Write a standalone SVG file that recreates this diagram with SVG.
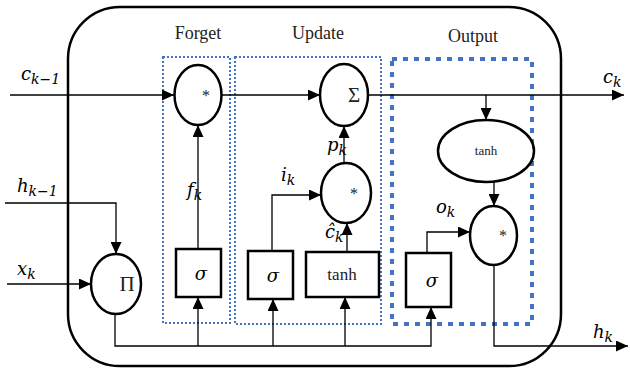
<svg xmlns="http://www.w3.org/2000/svg" width="630" height="370" viewBox="0 0 630 370">
<style>
.shape{fill:#fff;stroke:#000;stroke-width:2.5}
.wire{fill:none;stroke:#000;stroke-width:1.3}
.title{font-family:"Liberation Serif",serif;font-size:18px;fill:#222}
.math{font-family:"DejaVu Serif",serif;font-style:italic;font-size:18px;fill:#000}
.sub{font-size:14px}
.op{font-family:"Liberation Serif",serif;fill:#222}
</style>
<defs>
<marker id="arr" markerUnits="userSpaceOnUse" markerWidth="13" markerHeight="11" refX="12" refY="5.5" orient="auto">
<path d="M0,0 L12,5.5 L0,11 z" fill="#000"/>
</marker>
</defs>
<rect x="68" y="7" width="493" height="359" rx="52" fill="#fff" stroke="#000" stroke-width="2.5"/>
<g id="groups">
<rect x="163" y="57" width="67" height="266" fill="none" stroke="#4472C4" stroke-width="2" stroke-dasharray="2 2"/>
<rect x="235" y="57" width="146" height="267" fill="none" stroke="#4472C4" stroke-width="2" stroke-dasharray="2 2"/>
<rect x="392" y="59" width="140" height="265" fill="none" stroke="#4472C4" stroke-width="4" stroke-dasharray="5 6"/>
<text class="title" x="198" y="39" text-anchor="middle">Forget</text>
<text class="title" x="318" y="39" text-anchor="middle">Update</text>
<text class="title" x="473" y="42" text-anchor="middle">Output</text>
</g>
<g id="connectors">
<path class="wire" d="M10,95 H174" marker-end="url(#arr)"/>
<path class="wire" d="M221,95 H320" marker-end="url(#arr)"/>
<path class="wire" d="M368,95 H624" marker-end="url(#arr)"/>
<path class="wire" d="M486,95 V120" marker-end="url(#arr)"/>
<path class="wire" d="M494,182 V206" marker-end="url(#arr)"/>
<path class="wire" d="M494,265 V346 H628" marker-end="url(#arr)"/>
<path class="wire" d="M5,203 H116 V254" marker-end="url(#arr)"/>
<path class="wire" d="M7,284 H91" marker-end="url(#arr)"/>
<path class="wire" d="M115,314 V346 H431 V307" marker-end="url(#arr)"/>
<path class="wire" d="M198,346 V297" marker-end="url(#arr)"/>
<path class="wire" d="M273,346 V299" marker-end="url(#arr)"/>
<path class="wire" d="M345,346 V297" marker-end="url(#arr)"/>
<path class="wire" d="M198,249 V125" marker-end="url(#arr)"/>
<path class="wire" d="M272,251 V195 H321" marker-end="url(#arr)"/>
<path class="wire" d="M347,252 V223" marker-end="url(#arr)"/>
<path class="wire" d="M344,163 V126" marker-end="url(#arr)"/>
<path class="wire" d="M427,253 V232 H470" marker-end="url(#arr)"/>
</g>
<g id="forget-mult"><ellipse class="shape" cx="198" cy="95" rx="23.5" ry="30"/><text class="op" x="206" y="101" font-size="16" text-anchor="middle">*</text></g>
<g id="sum"><ellipse class="shape" cx="344" cy="95" rx="24" ry="31"/><text class="op" x="354" y="102" font-size="21" text-anchor="middle">Σ</text></g>
<g id="update-mult"><ellipse class="shape" cx="346" cy="193" rx="25" ry="30"/><text class="op" x="354" y="199" font-size="16" text-anchor="middle">*</text></g>
<g id="out-tanh"><ellipse class="shape" cx="486" cy="151" rx="48" ry="31"/><text class="op" x="486" y="155" font-size="13" text-anchor="middle">tanh</text></g>
<g id="out-mult"><ellipse class="shape" cx="493.5" cy="235.5" rx="23.5" ry="29.5"/><text class="op" x="503" y="241" font-size="16" text-anchor="middle">*</text></g>
<g id="concat"><ellipse class="shape" cx="116" cy="284" rx="25" ry="30"/><text class="op" x="127" y="291" font-size="21" text-anchor="middle">Π</text></g>
<g id="forget-sigma"><rect class="shape" x="176" y="249" width="45" height="48"/><text class="math" x="201" y="280" text-anchor="middle">σ</text></g>
<g id="input-sigma"><rect class="shape" x="248" y="251" width="45" height="48"/><text class="math" x="273" y="282" text-anchor="middle">σ</text></g>
<g id="cand-tanh"><rect class="shape" x="306" y="252" width="73" height="45"/><text class="op" x="342" y="280" font-size="17" text-anchor="middle">tanh</text></g>
<g id="out-sigma"><rect class="shape" x="406" y="253" width="45" height="54"/><text class="math" x="432" y="287" text-anchor="middle">σ</text></g>
<g id="labels">
<text class="math" x="21" y="80">c<tspan class="sub" dy="4">k−1</tspan></text>
<text class="math" x="17" y="192">h<tspan class="sub" dy="4">k−1</tspan></text>
<text class="math" x="17" y="275">x<tspan class="sub" dy="4">k</tspan></text>
<text class="math" x="187" y="196">f<tspan class="sub" dy="4">k</tspan></text>
<text class="math" x="281" y="181">i<tspan class="sub" dy="4">k</tspan></text>
<text class="math" x="327" y="151">p<tspan class="sub" dy="4">k</tspan></text>
<text class="math" x="325" y="238">ĉ<tspan class="sub" dy="4">k</tspan></text>
<text class="math" x="436" y="213">o<tspan class="sub" dy="4">k</tspan></text>
<text class="math" x="603" y="83">c<tspan class="sub" dy="4">k</tspan></text>
<text class="math" x="593" y="338">h<tspan class="sub" dy="4">k</tspan></text>
</g>
</svg>
